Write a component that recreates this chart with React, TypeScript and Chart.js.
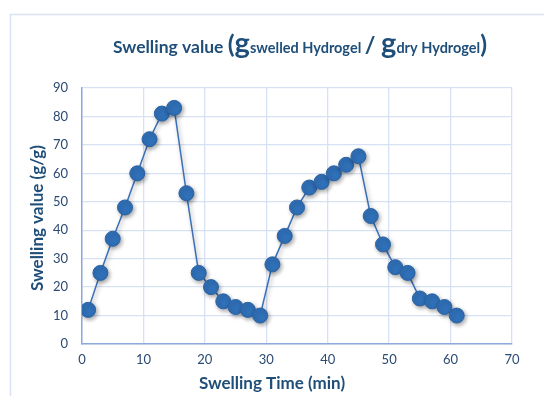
import React, { useEffect, useRef } from "react";
import { Chart, registerables } from "chart.js";

Chart.register(...registerables);

const timeMin = [1, 3, 5, 7, 9, 11, 13, 15, 17, 19, 21, 23, 25, 27, 29, 31, 33, 35, 37, 39, 41, 43, 45, 47, 49, 51, 53, 55, 57, 59, 61];
const swelling = [12, 25, 37, 48, 60, 72, 81, 83, 53, 25, 20, 15, 13, 12, 10, 28, 38, 48, 55, 57, 60, 63, 66, 45, 35, 27, 25, 16, 15, 13, 10];
const xTitle = "Swelling Time (min)";
const yTitle = "Swelling value (g/g)";

const FONT = "Lato, 'Open Sans', sans-serif";
const DARK = "#1f4e79";
const TICK = "#2a4a73";

const decorPlugin = {
  id: "decor",
  beforeDraw(chart: any) {
    const ctx = chart.ctx;
    ctx.save();
    ctx.strokeStyle = "#d9e2f3";
    ctx.lineWidth = 1.5;
    ctx.strokeRect(10.5, 14.5, 700, 600);
    ctx.restore();
  },
  afterDraw(chart: any) {
    const ctx = chart.ctx;
    ctx.save();
    ctx.fillStyle = DARK;
    const segs: [string, number][] = [
      ["Swelling value ", 17.5],
      ["(", 25],
      ["g", 29],
      ["swelled Hydrogel ", 14.5],
      ["/ ", 23],
      ["g", 29],
      ["dry Hydrogel", 14.5],
      [")", 25],
    ];
    let total = 0;
    for (const [t, s] of segs) {
      ctx.font = `bold ${s}px ${FONT}`;
      total += ctx.measureText(t).width;
    }
    let x = 300 - total / 2;
    const base = 53;
    ctx.textBaseline = "alphabetic";
    ctx.textAlign = "left";
    for (const [t, s] of segs) {
      ctx.font = `bold ${s}px ${FONT}`;
      ctx.fillText(t, x, base);
      x += ctx.measureText(t).width;
    }
    ctx.font = `bold 17px ${FONT}`;
    ctx.textAlign = "center";
    ctx.textBaseline = "middle";
    ctx.fillText(xTitle, 272, 384);
    ctx.translate(38, 218);
    ctx.rotate(-Math.PI / 2);
    ctx.fillText(yTitle, 0, 0);
    ctx.restore();
  },
  beforeDatasetsDraw(chart: any) {
    const ctx = chart.ctx;
    ctx.save();
    ctx.shadowColor = "rgba(0,0,0,0.35)";
    ctx.shadowBlur = 4;
    ctx.shadowOffsetX = 1.5;
    ctx.shadowOffsetY = 2;
  },
  afterDatasetsDraw(chart: any) {
    chart.ctx.restore();
  },
};

export default function App() {
  const ref = useRef<HTMLCanvasElement>(null);
  useEffect(() => {
    if (!ref.current) return;
    const chart = new Chart(ref.current, {
      type: "scatter",
      data: {
        datasets: [
          {
            data: timeMin.map((t, i) => ({ x: t, y: swelling[i] })),
            showLine: true,
            borderColor: "#3a6fb7",
            borderWidth: 1.5,
            backgroundColor: "#2f6db5",
            pointBackgroundColor: "#3070b8",
            pointBorderColor: "#2a62a3",
            pointBorderWidth: 1,
            pointRadius: 7.5,
          },
        ],
      },
      plugins: [decorPlugin],
      options: {
        animation: false,
        responsive: false,
        layout: { padding: { left: 0, top: 88, right: 32, bottom: 0 } },
        plugins: { legend: { display: false }, tooltip: { enabled: false }, title: { display: false } },
        scales: {
          x: {
            type: "linear",
            min: 0,
            max: 70,
            ticks: { stepSize: 10, color: TICK, font: { size: 13, family: FONT }, padding: 8 },
            grid: { color: "#d6e2f3", lineWidth: 1.3, tickLength: 0 },
            border: { color: "#8eaadb", width: 1.5 },
            afterFit(scale: any) {
              scale.height = 52;
            },
          },
          y: {
            min: 0,
            max: 90,
            ticks: { stepSize: 10, color: TICK, font: { size: 13, family: FONT }, padding: 14 },
            grid: { color: "#d6e2f3", lineWidth: 1.3, tickLength: 0 },
            border: { color: "#8eaadb", width: 1.5 },
            afterFit(scale: any) {
              scale.width = 82;
            },
          },
        },
      },
    } as any);
    return () => chart.destroy();
  }, []);
  return (
    <div style={{ position: "fixed", left: 0, top: 0, width: 544, height: 396, background: "#fff" }}>
      <canvas ref={ref} width={544} height={396} style={{ width: 544, height: 396 }} />
    </div>
  );
}
